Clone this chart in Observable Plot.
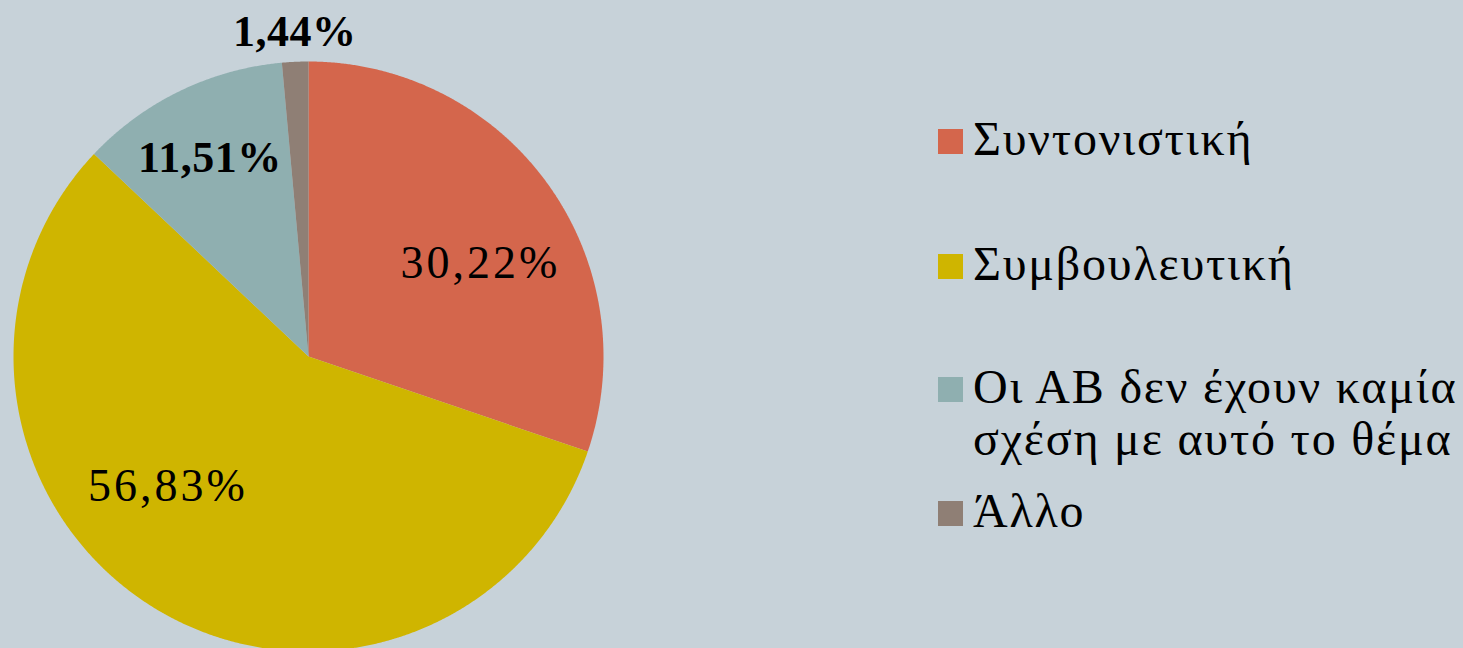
<!DOCTYPE html>
<html><head><meta charset="utf-8">
<script src="https://cdn.jsdelivr.net/npm/d3@7"></script>
<script src="https://cdn.jsdelivr.net/npm/@observablehq/plot@0.6"></script>
<style>
html,body{margin:0;padding:0;background:#C7D2D9;overflow:hidden;width:1463px;height:648px}
#chart{position:absolute;left:0;top:0}
#chart .lbl-normal text{letter-spacing:3px}
#chart .lbl-bold text{letter-spacing:0.5px}
.item{position:absolute;left:938px;font-family:"Liberation Serif",serif;font-size:48px;color:#000;line-height:52px;letter-spacing:1.8px;white-space:nowrap}
.sw{position:absolute;left:0;width:25px;height:25px}
.tx{position:absolute;left:35px;top:0}
</style></head><body><div id="chart"></div><div id="legend"></div>
<script>
const categories = ["Συντονιστική", "Συμβουλευτική", "Οι ΑΒ δεν έχουν καμία σχέση με αυτό το θέμα", "Άλλο"];
const values = [30.22, 56.83, 11.51, 1.44];
const colors = ["#D4664C", "#CFB500", "#8FAFB0", "#8F7F75"];
const legendLines = [["Συντονιστική"], ["Συμβουλευτική"], ["Οι ΑΒ δεν έχουν καμία", "σχέση με αυτό το θέμα"], ["Άλλο"]];

// layout (not data)
const labelLayout = [
  {r: 0.65, dx: 16, dy: 18, bold: false},
  {r: 0.66, dx: -40, dy: -37, bold: false},
  {r: 0.75, dx: -2, dy: 0, bold: true},
  {r: 0.95, dx: -1, dy: -45, bold: true}
];
const legendTops = [113, 238, 361, 485];

const total = d3.sum(values);
const pt = (a, r = 1) => [r * Math.sin(a * Math.PI / 180), r * Math.cos(a * Math.PI / 180)];
let acc = 0;
const slices = values.map((v, i) => {
  const a0 = acc / total * 360; acc += v; const a1 = acc / total * 360;
  const ring = [[0, 0]];
  const n = Math.max(2, Math.ceil((a1 - a0) / 0.25));
  for (let k = 0; k <= n; k++) ring.push(pt(a0 + (a1 - a0) * k / n));
  ring.push([0, 0]);
  return {type: "Feature", properties: {category: categories[i], value: v, mid: (a0 + a1) / 2, i},
          geometry: {type: "Polygon", coordinates: [ring]}};
});
const circle = {type: "Polygon", coordinates: [d3.range(0, 361, 1).map(a => pt(a))]};
const fmt = v => v.toFixed(2).replace(".", ",") + "%";

const textMarks = slices.map((s, i) => {
  const L = labelLayout[i];
  const [x, y] = pt(s.properties.mid, L.r);
  return Plot.text([s.properties], {
    x: () => x, y: () => y, text: d => fmt(d.value),
    dx: L.dx, dy: L.dy, fontSize: L.bold ? 44 : 46, fontWeight: L.bold ? "bold" : "normal",
    fontFamily: "Liberation Serif, serif", fill: "#000", lineAnchor: "middle", textAnchor: "middle",
    className: L.bold ? "lbl-bold" : "lbl-normal", clip: false
  });
});

const chart = Plot.plot({
  width: 1463, height: 651,
  marginLeft: 13, marginTop: 61, marginRight: 860, marginBottom: 0,
  style: {background: "transparent", overflow: "visible"},
  projection: {type: "reflect-y", domain: circle, inset: 0, clip: false},
  color: {domain: categories, range: colors},
  marks: [
    Plot.geo(slices, {fill: d => d.properties.category}),
    ...textMarks
  ]
});
document.getElementById("chart").appendChild(chart);

const leg = document.getElementById("legend");
legendLines.forEach((lines, i) => {
  const it = document.createElement("div");
  it.className = "item"; it.style.top = legendTops[i] + "px";
  const sw = document.createElement("div"); sw.className = "sw";
  sw.style.background = colors[i]; sw.style.top = "16px";
  const tx = document.createElement("div"); tx.className = "tx";
  tx.innerHTML = lines.join("<br>");
  it.appendChild(sw); it.appendChild(tx); leg.appendChild(it);
});
</script></body></html>
